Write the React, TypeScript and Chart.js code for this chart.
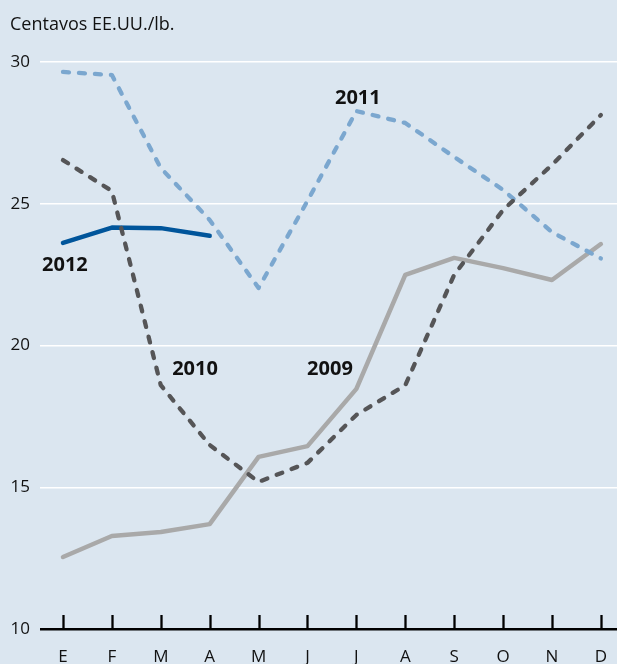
import React, { useEffect, useRef } from "react";
import { Chart, registerables } from "chart.js";

Chart.register(...registerables);

const months = ["E", "F", "M", "A", "M", "J", "J", "A", "S", "O", "N", "D"];
const yTicks = [10, 15, 20, 25, 30];
const unitLabel = "Centavos EE.UU./lb.";

const s2009 = [12.54, 13.28, 13.42, 13.7, 16.07, 16.45, 18.47, 22.49, 23.09, 22.73, 22.31, 23.58];
const s2010 = [26.54, 25.45, 18.6, 16.49, 15.19, 15.86, 17.55, 18.6, 22.49, 24.78, 26.37, 28.13];
const s2011 = [29.65, 29.54, 26.26, 24.43, 22.03, 25.1, 28.27, 27.85, 26.65, 25.49, 24.0, 23.07];
const s2012 = [23.62, 24.16, 24.14, 23.87];

const seriesNames = ["2010", "2011", "2012", "2009"];
// label anchors in data units: [x index, y value]
const labelAnchors: Record<string, [number, number]> = {
  "2012": [0.04, 22.84],
  "2010": [2.7, 19.17],
  "2009": [5.46, 19.17],
  "2011": [6.03, 28.73],
};

const BG = "#dbe6f0";
const FONT = '"Open Sans", "Noto Sans", sans-serif';

const toXY = (arr: number[]) => arr.map((v, i) => ({ x: i, y: v }));

const decor = {
  id: "decor",
  beforeDraw(chart: any) {
    const { ctx, width, height } = chart;
    ctx.save();
    ctx.fillStyle = BG;
    ctx.fillRect(0, 0, width, height);
    ctx.restore();
  },
  afterDraw(chart: any) {
    const { ctx } = chart;
    const x = chart.scales.x;
    const y = chart.scales.y;
    ctx.save();
    ctx.strokeStyle = "#000";
    ctx.lineWidth = 2.3;
    const base = y.getPixelForValue(10);
    months.forEach((_, i) => {
      const px = Math.round(x.getPixelForValue(i)) + 0.5;
      ctx.beginPath();
      ctx.moveTo(px, base);
      ctx.lineTo(px, base - 14);
      ctx.stroke();
    });
    ctx.fillStyle = "#111";
    ctx.font = `18px ${FONT}`;
    ctx.textAlign = "left";
    ctx.textBaseline = "middle";
    ctx.fillText(unitLabel, 10, 25);
    ctx.font = `bold 20px ${FONT}`;
    ctx.textAlign = "center";
    Object.keys(labelAnchors).forEach((k) => {
      const [lx, ly] = labelAnchors[k];
      ctx.fillText(k, x.getPixelForValue(lx), y.getPixelForValue(ly));
    });
    ctx.restore();
  },
};

export default function App() {
  const ref = useRef<HTMLCanvasElement>(null);
  useEffect(() => {
    document.body.style.margin = "0";
    document.body.style.background = BG;
    const dataMap: Record<string, number[]> = { "2009": s2009, "2010": s2010, "2011": s2011, "2012": s2012 };
    const styles: Record<string, any> = {
      "2010": { borderColor: "#555557", borderDash: [6, 10], borderWidth: 4.3 },
      "2011": { borderColor: "#7ba7cf", borderDash: [6, 10], borderWidth: 4.3 },
      "2012": { borderColor: "#00559b", borderDash: [], borderWidth: 4.5 },
      "2009": { borderColor: "#a9a9a9", borderDash: [], borderWidth: 4.5 },
    };
    const chart = new Chart(ref.current!, {
      type: "line",
      data: {
        datasets: seriesNames.map((n) => ({
          label: n,
          data: toXY(dataMap[n]),
          borderCapStyle: "round",
          borderJoinStyle: "round",
          pointRadius: 0,
          tension: 0,
          fill: false,
          ...styles[n],
        })),
      },
      options: {
        animation: false,
        responsive: false,
        layout: { padding: { top: 62, right: 0, left: 0, bottom: 0 } },
        plugins: { legend: { display: false }, tooltip: { enabled: false }, title: { display: false } },
        scales: {
          x: {
            type: "linear",
            min: -0.47,
            max: 11.33,
            afterBuildTicks: (s: any) => {
              s.ticks = months.map((_, i) => ({ value: i }));
            },
            afterFit: (s: any) => {
              s.height = 35;
              s.paddingLeft = 0;
              s.paddingRight = 0;
            },
            grid: { display: false, drawTicks: false },
            border: { display: false },
            ticks: {
              autoSkip: false,
              maxRotation: 0,
              padding: 18,
              color: "#111",
              font: { family: FONT, size: 17 },
              callback: (v: any) => months[Math.round(Number(v))] ?? "",
            },
          },
          y: {
            min: 10,
            max: 30,
            afterBuildTicks: (s: any) => {
              s.ticks = yTicks.map((v) => ({ value: v }));
            },
            afterFit: (s: any) => {
              s.width = 40;
            },
            grid: {
              drawTicks: false,
              color: (c: any) => (c.tick && c.tick.value === 10 ? "#000" : "#ffffff"),
              lineWidth: (c: any) => (c.tick && c.tick.value === 10 ? 2.5 : 1.5),
            },
            border: { display: false },
            ticks: {
              padding: 10,
              color: "#111",
              font: { family: FONT, size: 17 },
            },
          },
        },
      },
      plugins: [decor],
    } as any);
    return () => chart.destroy();
  }, []);
  return (
    <div style={{ width: 617, height: 664 }}>
      <canvas ref={ref} width={617} height={664} style={{ display: "block" }} />
    </div>
  );
}
